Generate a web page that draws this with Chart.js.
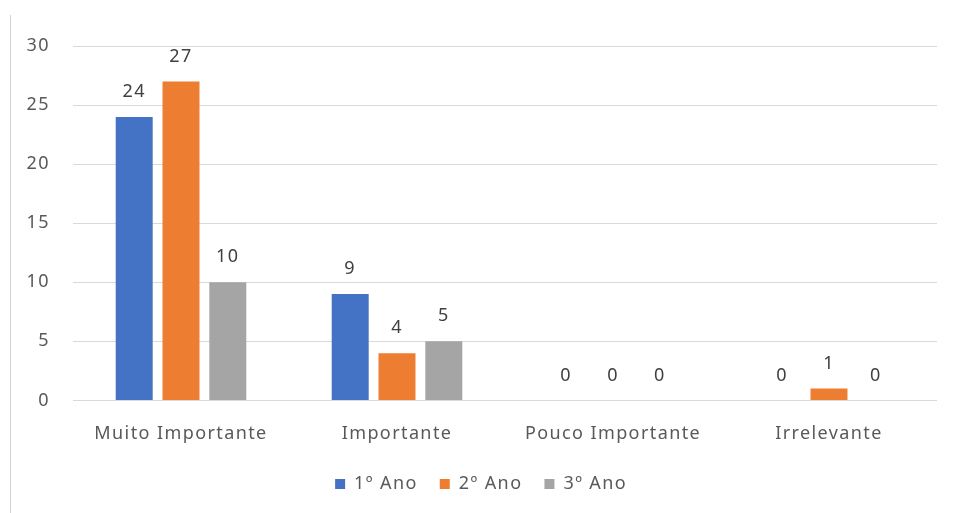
<!DOCTYPE html>
<html>
<head>
<meta charset="utf-8">
<script src="https://cdn.jsdelivr.net/npm/chart.js@4"></script>
<style>
  html, body { margin: 0; padding: 0; background: #fff; }
  #wrap { position: relative; width: 953px; height: 513px; }
  #edge { position: absolute; left: 10px; top: 15px; bottom: 0; width: 1px; background: #d4d4d4; }
</style>
</head>
<body>
<div id="wrap">
  <div id="edge"></div>
  <canvas id="importanceChart" width="953" height="513"></canvas>
</div>
<script>
const categories = ['Muito Importante', 'Importante', 'Pouco Importante', 'Irrelevante'];
const ano1 = [24, 9, 0, 0];
const ano2 = [27, 4, 0, 1];
const ano3 = [10, 5, 0, 0];
const seriesNames = ['1º Ano', '2º Ano', '3º Ano'];
const seriesColors = ['#4472C4', '#ED7D31', '#A5A5A5'];

const FONT = '"Noto Sans", "Open Sans", sans-serif';

// slightly looser text tracking for every label on the canvas
const looseText = {
  id: 'looseText',
  beforeInit(chart) { chart.ctx.letterSpacing = '1.4px'; },
  beforeDraw(chart) { chart.ctx.letterSpacing = '1.4px'; }
};

// prints each bar's value just above it (zeros included)
const valueLabels = {
  id: 'valueLabels',
  afterDatasetsDraw(chart) {
    const ctx = chart.ctx;
    ctx.save();
    ctx.font = '18px ' + FONT;
    ctx.fillStyle = '#404040';
    ctx.textAlign = 'center';
    ctx.textBaseline = 'bottom';
    chart.data.datasets.forEach((ds, i) => {
      chart.getDatasetMeta(i).data.forEach((bar, j) => {
        ctx.fillText(String(ds.data[j]), bar.x, bar.y - 16);
      });
    });
    ctx.restore();
  }
};

const ctx = document.getElementById('importanceChart').getContext('2d');
new Chart(ctx, {
  type: 'bar',
  data: {
    labels: categories,
    datasets: [ano1, ano2, ano3].map((values, i) => ({
      label: seriesNames[i],
      data: values,
      backgroundColor: seriesColors[i],
      borderWidth: 0,
      categoryPercentage: 0.65,
      barPercentage: 0.79
    }))
  },
  options: {
    responsive: false,
    animation: false,
    layout: { padding: { left: 0, right: 16, top: 46, bottom: 10 } },
    plugins: {
      legend: {
        position: 'bottom',
        labels: {
          boxWidth: 10,
          boxHeight: 10,
          padding: 22,
          color: '#595959',
          font: { family: FONT, size: 18 }
        }
      },
      tooltip: { enabled: false }
    },
    scales: {
      y: {
        min: 0,
        max: 30,
        afterFit(scale) { scale.width = 73; },
        border: { display: false },
        grid: { color: '#d9d9d9', drawTicks: false },
        ticks: {
          stepSize: 5,
          padding: 23,
          color: '#595959',
          font: { family: FONT, size: 18 }
        }
      },
      x: {
        afterFit(scale) { scale.height -= 7; },
        border: { display: false },
        grid: { display: false },
        ticks: {
          padding: 15,
          color: '#595959',
          font: { family: FONT, size: 18 }
        }
      }
    }
  },
  plugins: [looseText, valueLabels]
});
</script>
</body>
</html>
